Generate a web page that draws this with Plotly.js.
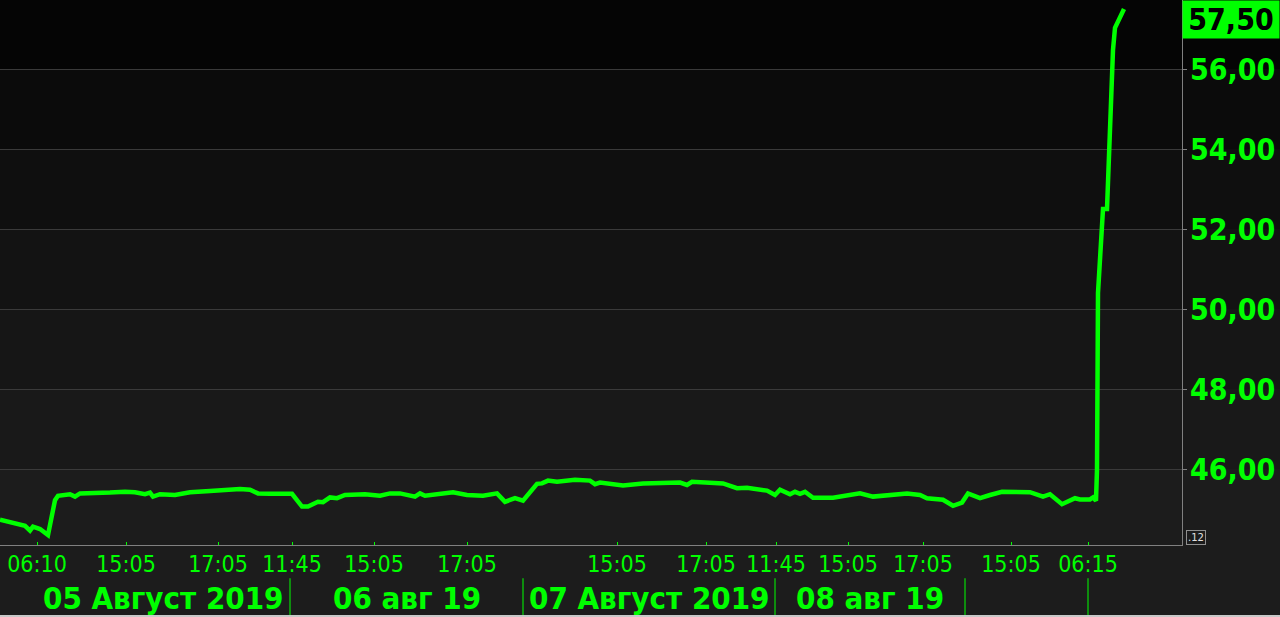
<!DOCTYPE html>
<html>
<head>
<meta charset="utf-8">
<script src="https://cdn.plot.ly/plotly-3.0.1.min.js"></script>
<style>html,body{margin:0;padding:0;background:#1c1c1c;}#chart{width:1280px;height:617px;}</style>
</head>
<body>
<div id="chart"></div>
<script>
// bar index (5-min bars of the trading sessions shown)
const bars = [0,5,12.5,15,16.5,20,24,27.5,29,35,37.5,40,50,55,62.5,67.5,72.5,75,76.5,80,87.5,95,105,115,120,125,129,135,146,151,154,159,161.5,165,168.5,172.5,182.5,190,195,200,207.5,210,212.5,226.5,233.5,241.5,248.5,252.5,257.5,261.5,268.5,271,274,278.5,287.5,295,297.5,300,311.5,321.5,331.5,340,343.5,346,361.5,368.5,373.5,383.5,387.5,390,395,397.5,400,402.5,406.5,416.5,430,436.5,453.5,460,463.5,471.5,476.5,481,484,490,495,501,515,521.5,525,531,537.5,540,545,546.5,548,548.5,549,550,551.5,553.5,556.5,557.5,562];
const prices = [44.73,44.66,44.58,44.46,44.56,44.50,44.35,45.22,45.33,45.37,45.31,45.39,45.39,45.41,45.43,45.42,45.37,45.41,45.31,45.37,45.35,45.42,45.45,45.48,45.50,45.48,45.39,45.38,45.38,45.06,45.06,45.18,45.17,45.29,45.27,45.35,45.37,45.33,45.39,45.39,45.31,45.39,45.33,45.42,45.35,45.33,45.39,45.18,45.27,45.21,45.63,45.64,45.71,45.68,45.73,45.71,45.62,45.66,45.59,45.64,45.66,45.66,45.60,45.68,45.64,45.52,45.53,45.46,45.35,45.48,45.37,45.43,45.38,45.43,45.28,45.28,45.39,45.31,45.39,45.35,45.27,45.23,45.08,45.16,45.39,45.27,45.35,45.43,45.42,45.31,45.37,45.12,45.27,45.24,45.24,45.29,45.21,45.98,50.40,51.30,52.50,52.50,56.48,57.03,57.50];

const timeTickBars = [18.5,63,109,146,187,233.5,308.5,353,388,424,461.5,505.5,544];
const timeTickText = ["06:10","15:05","17:05","11:45","15:05","17:05","15:05","17:05","11:45","15:05","17:05","15:05","06:15"];

const dayDividers = [18.5,145,261.5,387.5,482.5,544];
const dayLabels = ["05 Август 2019","06 авг 19","07 Август 2019","08 авг 19"];

const priceTicks = [46,48,50,52,54,56];
const yMin = 44.1, yMax = 57.725;
const xMax = 591;

const GREEN = '#00ff00';
const bandColors = ['#1c1c1c','#191919','#161616','#131313','#0f0f0f','#0b0b0b','#050505'];

const shapes = [];
const edges = [yMin].concat(priceTicks, [yMax]);
for (let i = 0; i < edges.length - 1; i++) {
  shapes.push({type:'rect', layer:'below', xref:'paper', yref:'y', x0:0, x1:1280/1182,
    y0:edges[i], y1:edges[i+1], fillcolor:bandColors[i], line:{width:0}});
}
for (let i = 1; i < dayDividers.length; i++) {
  shapes.push({type:'line', xref:'x', yref:'paper', x0:dayDividers[i], x1:dayDividers[i],
    y0:-0.061, y1:-0.132, line:{color:GREEN, width:1}});
}
shapes.push({type:'line', xref:'paper', yref:'paper', x0:0, x1:1280/1182, y0:-0.1305, y1:-0.1305,
  line:{color:'#c8c8c8', width:2}});

const annotations = [];
for (let i = 0; i < dayLabels.length; i++) {
  annotations.push({xref:'x', yref:'paper', x:(dayDividers[i]+dayDividers[i+1])/2, y:-0.097,
    xanchor:'center', yanchor:'middle', showarrow:false, text:dayLabels[i],
    font:{family:'DejaVu Sans Condensed, DejaVu Sans', size:31, color:GREEN, weight:'bold'}});
}
const last = prices[prices.length-1];
annotations.push({xref:'paper', yref:'paper', x:1, y:1, xanchor:'left', yanchor:'top',
  showarrow:false, text:last.toFixed(2).replace('.', ','), bgcolor:GREEN, width:96, height:37, borderpad:0,
  font:{family:'DejaVu Sans Condensed, DejaVu Sans', size:30, color:'#000000', weight:'bold'}});
annotations.push({xref:'paper', yref:'paper', x:1+4/1182, y:0.013, xanchor:'left', yanchor:'middle',
  showarrow:false, text:'.12', bordercolor:'#909090', borderwidth:1, borderpad:1,
  font:{family:'DejaVu Sans', size:10, color:'#e0e0e0'}});

const trace = {x:bars, y:prices, type:'scatter', mode:'lines',
  line:{color:GREEN, width:4.5, shape:'linear'}, hoverinfo:'skip'};

const layout = {
  width:1280, height:617,
  margin:{l:0, r:98, t:0, b:72, pad:0},
  paper_bgcolor:'#1c1c1c', plot_bgcolor:'rgba(0,0,0,0)',
  separators:', ',
  showlegend:false,
  xaxis:{range:[0,xMax], tickmode:'array', tickvals:timeTickBars, ticktext:timeTickText,
    showgrid:false, zeroline:false, showline:true, linecolor:'#808080', linewidth:1,
    ticks:'inside', ticklen:3, tickcolor:GREEN, ticklabelstandoff:-2,
    tickfont:{family:'DejaVu Sans Condensed, DejaVu Sans', size:23, color:GREEN}},
  yaxis:{side:'right', range:[yMin,yMax], tickmode:'array', tickvals:priceTicks, tickformat:'.2f',
    showgrid:true, gridcolor:'#3a3a3a', gridwidth:1, zeroline:false,
    showline:true, linecolor:'#808080', linewidth:1, ticks:'outside', ticklen:4, tickcolor:'#808080',
    ticklabelstandoff:-3,
    tickfont:{family:'DejaVu Sans Condensed, DejaVu Sans', size:30, color:GREEN, weight:'bold'}},
  shapes:shapes, annotations:annotations
};

Plotly.newPlot('chart', [trace], layout, {displayModeBar:false, staticPlot:true});
</script>
</body>
</html>
